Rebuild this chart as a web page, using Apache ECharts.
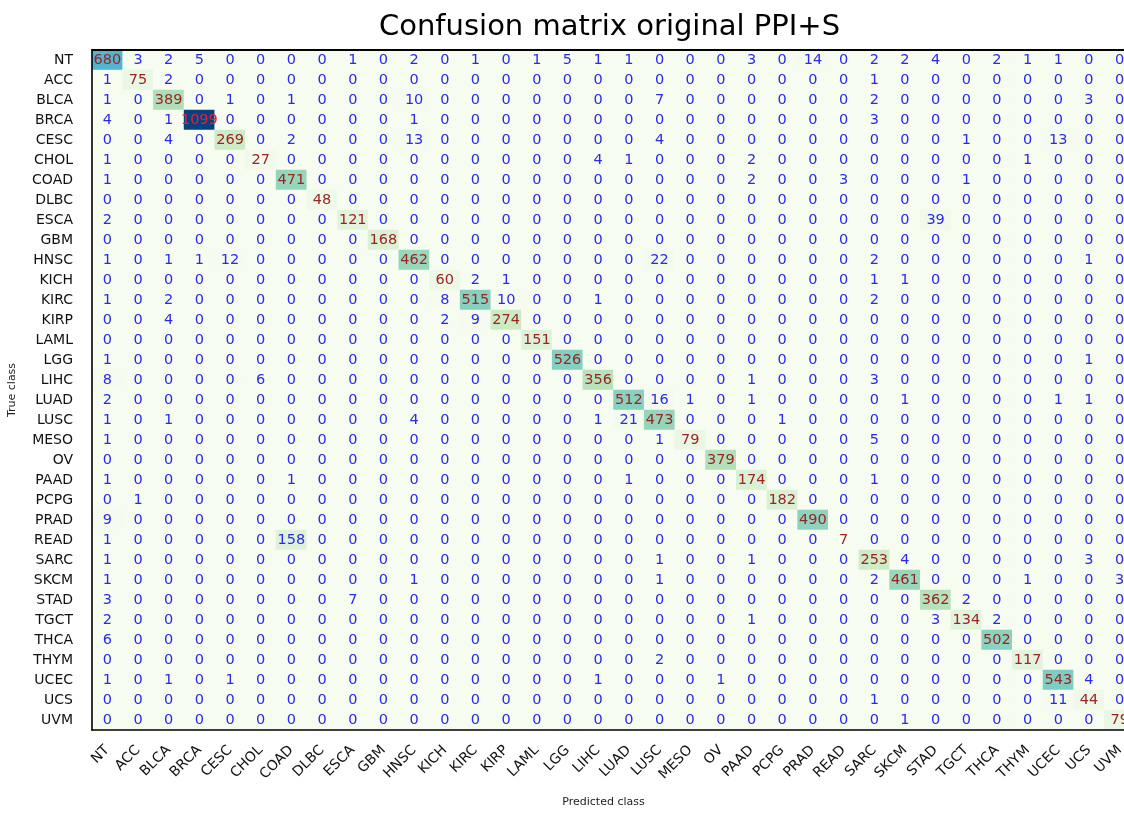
<!DOCTYPE html>
<html lang="en">

<head>
    <meta charset="UTF-8" />
    <title>Confusion matrix original PPI+S</title>
    <script src="https://cdn.jsdelivr.net/npm/echarts@6/dist/echarts.min.js"></script>
    <style>
        body {
            margin: 0;
            background: #fff;
        }

        #chart {
            width: 1124px;
            height: 813px;
        }
    </style>
</head>

<body>
    <div id="chart"></div>

    <script>
        // class names (rows = true class, columns = predicted class)
        const classes = ['NT', 'ACC', 'BLCA', 'BRCA', 'CESC', 'CHOL', 'COAD', 'DLBC', 'ESCA', 'GBM', 'HNSC',
            'KICH', 'KIRC', 'KIRP', 'LAML', 'LGG', 'LIHC', 'LUAD', 'LUSC', 'MESO', 'OV', 'PAAD', 'PCPG',
            'PRAD', 'READ', 'SARC', 'SKCM', 'STAD', 'TGCT', 'THCA', 'THYM', 'UCEC', 'UCS', 'UVM'];

        // counts, one row per true class
        const counts = [
            [680, 3, 2, 5, 0, 0, 0, 0, 1, 0, 2, 0, 1, 0, 1, 5, 1, 1, 0, 0, 0, 3, 0, 14, 0, 2, 2, 4, 0, 2, 1, 1, 0, 0],
            [1, 75, 2, 0, 0, 0, 0, 0, 0, 0, 0, 0, 0, 0, 0, 0, 0, 0, 0, 0, 0, 0, 0, 0, 0, 1, 0, 0, 0, 0, 0, 0, 0, 0],
            [1, 0, 389, 0, 1, 0, 1, 0, 0, 0, 10, 0, 0, 0, 0, 0, 0, 0, 7, 0, 0, 0, 0, 0, 0, 2, 0, 0, 0, 0, 0, 0, 3, 0],
            [4, 0, 1, 1099, 0, 0, 0, 0, 0, 0, 1, 0, 0, 0, 0, 0, 0, 0, 0, 0, 0, 0, 0, 0, 0, 3, 0, 0, 0, 0, 0, 0, 0, 0],
            [0, 0, 4, 0, 269, 0, 2, 0, 0, 0, 13, 0, 0, 0, 0, 0, 0, 0, 4, 0, 0, 0, 0, 0, 0, 0, 0, 0, 1, 0, 0, 13, 0, 0],
            [1, 0, 0, 0, 0, 27, 0, 0, 0, 0, 0, 0, 0, 0, 0, 0, 4, 1, 0, 0, 0, 2, 0, 0, 0, 0, 0, 0, 0, 0, 1, 0, 0, 0],
            [1, 0, 0, 0, 0, 0, 471, 0, 0, 0, 0, 0, 0, 0, 0, 0, 0, 0, 0, 0, 0, 2, 0, 0, 3, 0, 0, 0, 1, 0, 0, 0, 0, 0],
            [0, 0, 0, 0, 0, 0, 0, 48, 0, 0, 0, 0, 0, 0, 0, 0, 0, 0, 0, 0, 0, 0, 0, 0, 0, 0, 0, 0, 0, 0, 0, 0, 0, 0],
            [2, 0, 0, 0, 0, 0, 0, 0, 121, 0, 0, 0, 0, 0, 0, 0, 0, 0, 0, 0, 0, 0, 0, 0, 0, 0, 0, 39, 0, 0, 0, 0, 0, 0],
            [0, 0, 0, 0, 0, 0, 0, 0, 0, 168, 0, 0, 0, 0, 0, 0, 0, 0, 0, 0, 0, 0, 0, 0, 0, 0, 0, 0, 0, 0, 0, 0, 0, 0],
            [1, 0, 1, 1, 12, 0, 0, 0, 0, 0, 462, 0, 0, 0, 0, 0, 0, 0, 22, 0, 0, 0, 0, 0, 0, 2, 0, 0, 0, 0, 0, 0, 1, 0],
            [0, 0, 0, 0, 0, 0, 0, 0, 0, 0, 0, 60, 2, 1, 0, 0, 0, 0, 0, 0, 0, 0, 0, 0, 0, 1, 1, 0, 0, 0, 0, 0, 0, 0],
            [1, 0, 2, 0, 0, 0, 0, 0, 0, 0, 0, 8, 515, 10, 0, 0, 1, 0, 0, 0, 0, 0, 0, 0, 0, 2, 0, 0, 0, 0, 0, 0, 0, 0],
            [0, 0, 4, 0, 0, 0, 0, 0, 0, 0, 0, 2, 9, 274, 0, 0, 0, 0, 0, 0, 0, 0, 0, 0, 0, 0, 0, 0, 0, 0, 0, 0, 0, 0],
            [0, 0, 0, 0, 0, 0, 0, 0, 0, 0, 0, 0, 0, 0, 151, 0, 0, 0, 0, 0, 0, 0, 0, 0, 0, 0, 0, 0, 0, 0, 0, 0, 0, 0],
            [1, 0, 0, 0, 0, 0, 0, 0, 0, 0, 0, 0, 0, 0, 0, 526, 0, 0, 0, 0, 0, 0, 0, 0, 0, 0, 0, 0, 0, 0, 0, 0, 1, 0],
            [8, 0, 0, 0, 0, 6, 0, 0, 0, 0, 0, 0, 0, 0, 0, 0, 356, 0, 0, 0, 0, 1, 0, 0, 0, 3, 0, 0, 0, 0, 0, 0, 0, 0],
            [2, 0, 0, 0, 0, 0, 0, 0, 0, 0, 0, 0, 0, 0, 0, 0, 0, 512, 16, 1, 0, 1, 0, 0, 0, 0, 1, 0, 0, 0, 0, 1, 1, 0],
            [1, 0, 1, 0, 0, 0, 0, 0, 0, 0, 4, 0, 0, 0, 0, 0, 1, 21, 473, 0, 0, 0, 1, 0, 0, 0, 0, 0, 0, 0, 0, 0, 0, 0],
            [1, 0, 0, 0, 0, 0, 0, 0, 0, 0, 0, 0, 0, 0, 0, 0, 0, 0, 1, 79, 0, 0, 0, 0, 0, 5, 0, 0, 0, 0, 0, 0, 0, 0],
            [0, 0, 0, 0, 0, 0, 0, 0, 0, 0, 0, 0, 0, 0, 0, 0, 0, 0, 0, 0, 379, 0, 0, 0, 0, 0, 0, 0, 0, 0, 0, 0, 0, 0],
            [1, 0, 0, 0, 0, 0, 1, 0, 0, 0, 0, 0, 0, 0, 0, 0, 0, 1, 0, 0, 0, 174, 0, 0, 0, 1, 0, 0, 0, 0, 0, 0, 0, 0],
            [0, 1, 0, 0, 0, 0, 0, 0, 0, 0, 0, 0, 0, 0, 0, 0, 0, 0, 0, 0, 0, 0, 182, 0, 0, 0, 0, 0, 0, 0, 0, 0, 0, 0],
            [9, 0, 0, 0, 0, 0, 0, 0, 0, 0, 0, 0, 0, 0, 0, 0, 0, 0, 0, 0, 0, 0, 0, 490, 0, 0, 0, 0, 0, 0, 0, 0, 0, 0],
            [1, 0, 0, 0, 0, 0, 158, 0, 0, 0, 0, 0, 0, 0, 0, 0, 0, 0, 0, 0, 0, 0, 0, 0, 7, 0, 0, 0, 0, 0, 0, 0, 0, 0],
            [1, 0, 0, 0, 0, 0, 0, 0, 0, 0, 0, 0, 0, 0, 0, 0, 0, 0, 1, 0, 0, 1, 0, 0, 0, 253, 4, 0, 0, 0, 0, 0, 3, 0],
            [1, 0, 0, 0, 0, 0, 0, 0, 0, 0, 1, 0, 0, 0, 0, 0, 0, 0, 1, 0, 0, 0, 0, 0, 0, 2, 461, 0, 0, 0, 1, 0, 0, 3],
            [3, 0, 0, 0, 0, 0, 0, 0, 7, 0, 0, 0, 0, 0, 0, 0, 0, 0, 0, 0, 0, 0, 0, 0, 0, 0, 0, 362, 2, 0, 0, 0, 0, 0],
            [2, 0, 0, 0, 0, 0, 0, 0, 0, 0, 0, 0, 0, 0, 0, 0, 0, 0, 0, 0, 0, 1, 0, 0, 0, 0, 0, 3, 134, 2, 0, 0, 0, 0],
            [6, 0, 0, 0, 0, 0, 0, 0, 0, 0, 0, 0, 0, 0, 0, 0, 0, 0, 0, 0, 0, 0, 0, 0, 0, 0, 0, 0, 0, 502, 0, 0, 0, 0],
            [0, 0, 0, 0, 0, 0, 0, 0, 0, 0, 0, 0, 0, 0, 0, 0, 0, 0, 2, 0, 0, 0, 0, 0, 0, 0, 0, 0, 0, 0, 117, 0, 0, 0],
            [1, 0, 1, 0, 1, 0, 0, 0, 0, 0, 0, 0, 0, 0, 0, 0, 1, 0, 0, 0, 1, 0, 0, 0, 0, 0, 0, 0, 0, 0, 0, 543, 4, 0],
            [0, 0, 0, 0, 0, 0, 0, 0, 0, 0, 0, 0, 0, 0, 0, 0, 0, 0, 0, 0, 0, 0, 0, 0, 0, 1, 0, 0, 0, 0, 0, 11, 44, 0],
            [0, 0, 0, 0, 0, 0, 0, 0, 0, 0, 0, 0, 0, 0, 0, 0, 0, 0, 0, 0, 0, 0, 0, 0, 0, 0, 1, 0, 0, 0, 0, 0, 0, 79]
        ];

        // GnBu colour map
        const gnbu = ['#f7fcf0', '#e0f3db', '#ccebc5', '#a8ddb5', '#7bccc4', '#4eb3d3', '#2b8cbe', '#0868ac', '#084081'];

        const font = 'DejaVu Sans';
        const maxVal = Math.max(...counts.flat());

        // heatmap cells, diagonal text in red, the rest blue
        const cells = [];
        counts.forEach((row, i) => {
            row.forEach((v, j) => {
                let c = '#2a2ae8';
                if (i === j) c = v > 900 ? '#e8222c' : '#9a2424';
                cells.push({ value: [j, i, v], label: { color: c } });
            });
        });

        const chart = echarts.init(document.getElementById('chart'));

        // the plot runs a little past the right edge of the picture (UVM column is cut)
        const option = {
            animation: false,
            title: {
                text: 'Confusion matrix original PPI+S',
                left: 374,
                top: 8,
                textStyle: { fontFamily: font, fontSize: 29, fontWeight: 'normal', color: '#000' }
            },
            grid: { left: 92, width: 1043, top: 50, bottom: 83, outerBoundsMode: 'none' },
            visualMap: {
                show: false,
                min: 0,
                max: maxVal,
                dimension: 2,
                inRange: { color: gnbu }
            },
            xAxis: [
                {
                    type: 'category',
                    data: classes,
                    position: 'bottom',
                    z: 10,
                    name: 'Predicted class',
                    nameLocation: 'middle',
                    nameGap: 67,
                    nameTextStyle: { fontFamily: font, fontSize: 11, color: '#222', padding: [0, 20, 0, 0] },
                    axisLine: { lineStyle: { color: '#000', width: 1.6 } },
                    axisTick: { alignWithLabel: true, length: 9, lineStyle: { color: '#000', width: 1.3 } },
                    axisLabel: { rotate: 45, interval: 0, margin: 18, fontFamily: font, fontSize: 14, color: '#111' },
                    splitLine: { show: false }
                },
                {
                    type: 'category',
                    data: classes,
                    position: 'top',
                    z: 10,
                    axisLine: { lineStyle: { color: '#000', width: 1.8 } },
                    axisTick: { show: false },
                    axisLabel: { show: false }
                }
            ],
            yAxis: {
                type: 'category',
                data: classes,
                inverse: true,
                z: 10,
                name: 'True class',
                nameLocation: 'middle',
                nameGap: 74,
                nameRotate: 90,
                nameTextStyle: { fontFamily: font, fontSize: 11, color: '#222' },
                axisLine: { lineStyle: { color: '#000', width: 1.6 } },
                axisTick: { alignWithLabel: true, length: 9, lineStyle: { color: '#000', width: 1.3 } },
                axisLabel: { interval: 0, margin: 19, fontFamily: font, fontSize: 14, color: '#111' },
                splitLine: { show: false }
            },
            series: [{
                type: 'heatmap',
                data: cells,
                label: {
                    show: true,
                    fontFamily: font,
                    fontSize: 14.5,
                    formatter: p => p.value[2]
                },
                itemStyle: { borderWidth: 0 }
            }]
        };

        chart.setOption(option);
    </script>
</body>

</html>
